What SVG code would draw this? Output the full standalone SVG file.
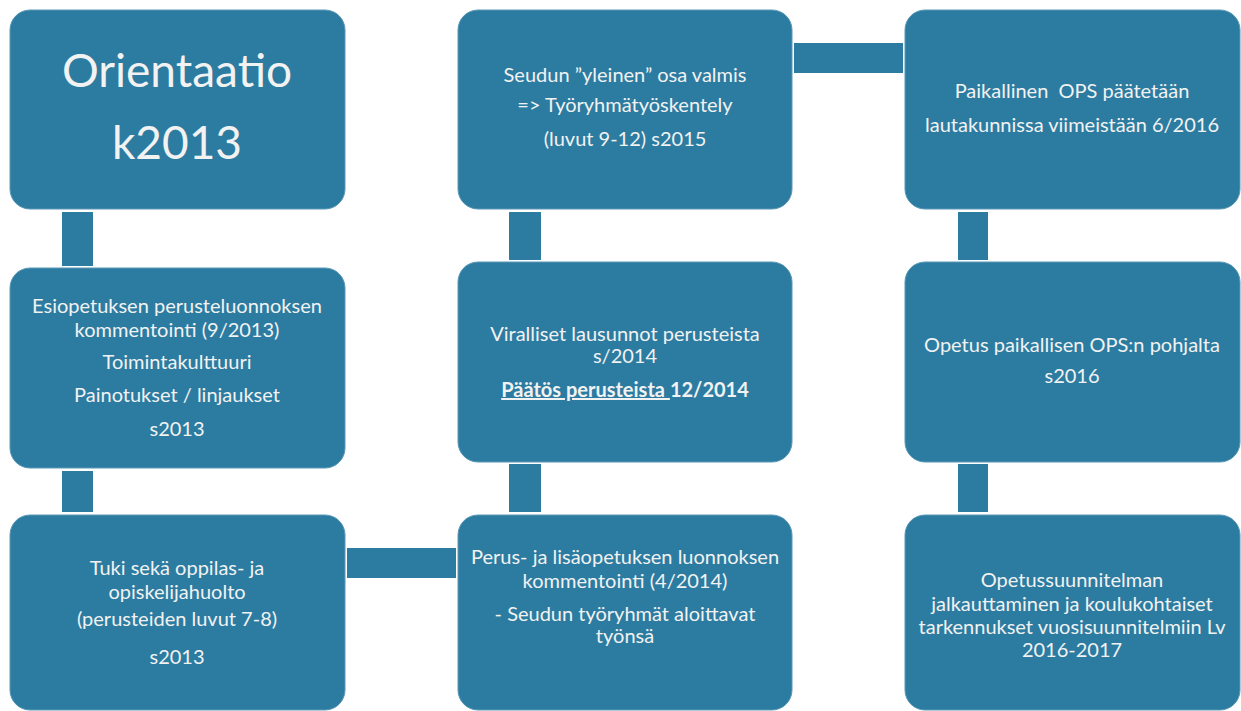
<svg xmlns="http://www.w3.org/2000/svg" width="1241" height="711" viewBox="0 0 1241 711">
<style>
.box{fill:#2C7CA1;stroke:#5A98B6;stroke-width:1}
.con{fill:#2C7CA1}
text{font-family:Lato,"Open Sans","Liberation Sans",sans-serif;fill:#F2F2F2;font-size:20px;text-anchor:middle}
.big{font-size:46px}
.b{font-weight:bold}
</style>
<rect width="1241" height="711" fill="#FFFFFF"/>
<g id="connectors">
<rect class="con" x="62" y="212" width="31" height="54"/>
<rect class="con" x="62" y="471" width="31" height="41"/>
<rect class="con" x="347" y="548" width="109" height="30"/>
<rect class="con" x="509" y="464" width="32" height="48"/>
<rect class="con" x="509" y="212" width="32" height="48"/>
<rect class="con" x="794" y="43" width="109" height="30"/>
<rect class="con" x="958" y="212" width="30" height="48"/>
<rect class="con" x="958" y="464" width="30" height="48"/>
</g>
<g id="n1">
<rect class="box" x="10" y="10" width="335" height="199" rx="20"/>
<text class="big" x="177" y="87">Orientaatio</text>
<text class="big" x="177" y="159">k2013</text>
</g>
<g id="n2">
<rect class="box" x="10" y="268" width="335" height="200" rx="20"/>
<text x="177" y="313">Esiopetuksen perusteluonnoksen</text>
<text x="177" y="337">kommentointi (9/2013)</text>
<text x="177" y="369">Toimintakulttuuri</text>
<text x="177" y="402">Painotukset / linjaukset</text>
<text x="177" y="436">s2013</text>
</g>
<g id="n3">
<rect class="box" x="10" y="515" width="335" height="195" rx="20"/>
<text x="177" y="575">Tuki sekä oppilas- ja</text>
<text x="177" y="599">opiskelijahuolto</text>
<text x="177" y="626">(perusteiden luvut 7-8)</text>
<text x="177" y="664">s2013</text>
</g>
<g id="n4">
<rect class="box" x="458" y="10" width="334" height="199" rx="20"/>
<text x="625" y="82">Seudun ”yleinen” osa valmis</text>
<text x="625" y="112">=&gt; Työryhmätyöskentely</text>
<text x="625" y="146">(luvut 9-12) s2015</text>
</g>
<g id="n5">
<rect class="box" x="458" y="262" width="334" height="200" rx="20"/>
<text x="625" y="341">Viralliset lausunnot perusteista</text>
<text x="625" y="363">s/2014</text>
<text class="b" x="625" y="397"><tspan text-decoration="underline">Päätös perusteista </tspan>12/2014</text>
</g>
<g id="n6">
<rect class="box" x="458" y="515" width="334" height="195" rx="20"/>
<text x="625" y="564">Perus- ja lisäopetuksen luonnoksen</text>
<text x="625" y="588">kommentointi (4/2014)</text>
<text x="625" y="621">- Seudun työryhmät aloittavat</text>
<text x="625" y="643">työnsä</text>
</g>
<g id="n7">
<rect class="box" x="905" y="10" width="335" height="199" rx="20"/>
<text x="1072" y="98" xml:space="preserve">Paikallinen  OPS päätetään</text>
<text x="1072" y="132">lautakunnissa viimeistään 6/2016</text>
</g>
<g id="n8">
<rect class="box" x="905" y="262" width="335" height="200" rx="20"/>
<text x="1072" y="352">Opetus paikallisen OPS:n pohjalta</text>
<text x="1072" y="383">s2016</text>
</g>
<g id="n9">
<rect class="box" x="905" y="515" width="335" height="195" rx="20"/>
<text x="1072" y="587">Opetussuunnitelman</text>
<text x="1072" y="611">jalkauttaminen ja koulukohtaiset</text>
<text x="1072" y="634">tarkennukset vuosisuunnitelmiin Lv</text>
<text x="1072" y="657">2016-2017</text>
</g>
</svg>
